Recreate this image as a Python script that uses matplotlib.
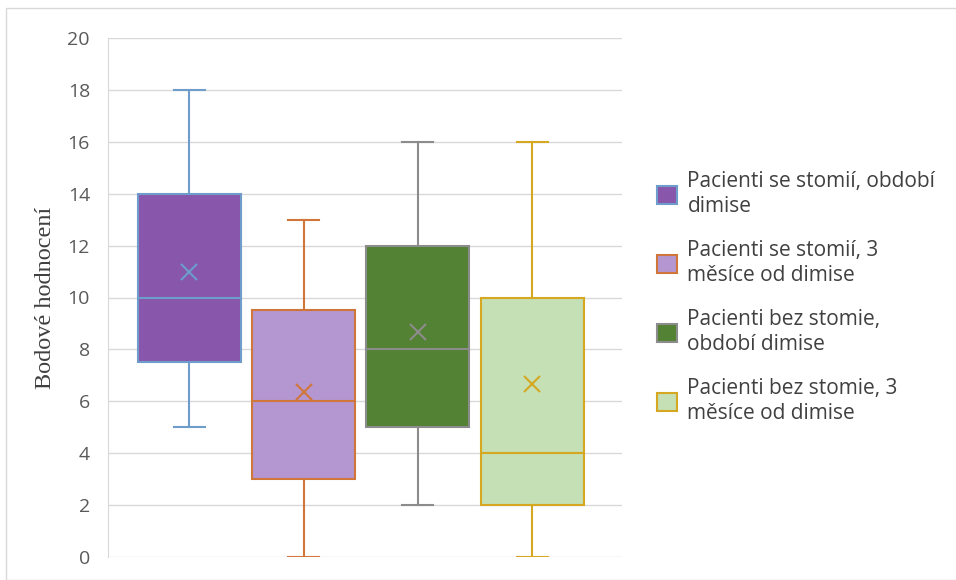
import matplotlib.pyplot as plt
from matplotlib.patches import Patch, Rectangle

# data
labels = ['Pacienti se stomií, období\ndimise',
          'Pacienti se stomií, 3\nměsíce od dimise',
          'Pacienti bez stomie,\nobdobí dimise',
          'Pacienti bez stomie, 3\nměsíce od dimise']
whislo = [5, 0, 2, 0]
q1 = [7.5, 3, 5, 2]
med = [10, 6, 8, 4]
q3 = [14, 9.5, 12, 10]
whishi = [18, 13, 16, 16]
means = [11, 6.35, 8.67, 6.67]

fills = ['#8856AB', '#B497D0', '#548235', '#C5E0B4']
edges = ['#6E9CCB', '#D0763A', '#8C8C8C', '#D6A822']

fig = plt.figure(figsize=(9.56, 5.8), dpi=100)
ax = fig.add_axes([108 / 956, 1 - 557 / 580, 514 / 956, 519 / 580])
fig.patches.append(Rectangle((6 / 956, 0), 1, 1 - 8 / 580, transform=fig.transFigure,
                             fill=False, edgecolor='#D9D9D9', linewidth=1))

stats = []
for i in range(4):
    stats.append(dict(whislo=whislo[i], q1=q1[i], med=med[i], q3=q3[i],
                      whishi=whishi[i], mean=means[i], label=labels[i]))

pos = [1, 2, 3, 4]
for i in range(4):
    ax.bxp([stats[i]], positions=[pos[i]], widths=0.9, patch_artist=True,
           showmeans=True, showfliers=False,
           boxprops=dict(facecolor=fills[i], edgecolor=edges[i], linewidth=1.5),
           medianprops=dict(color=edges[i], linewidth=1.5),
           whiskerprops=dict(color=edges[i], linewidth=1.5),
           capprops=dict(color=edges[i], linewidth=1.5),
           capwidths=0.27,
           meanprops=dict(marker='x', markeredgecolor=edges[i], markersize=11,
                          markeredgewidth=1.5),
           zorder=3)

ax.set_xlim(0.287, 4.787)
ax.set_ylim(0, 20)
ax.set_yticks(range(0, 21, 2))
ax.set_xticks([])
ax.grid(axis='y', color='#D9D9D9', linewidth=1, zorder=0)
ax.set_axisbelow(True)
for s in ['top', 'right', 'bottom']:
    ax.spines[s].set_visible(False)
ax.spines['left'].set_color('#D9D9D9')
ax.tick_params(axis='y', length=0, pad=13, labelsize=14, labelcolor='#595959')
for t in ax.get_yticklabels():
    t.set_family('Open Sans')
ax.set_ylabel('Bodové hodnocení', family='Liberation Serif', fontsize=17.5,
              color='#404040', labelpad=8)

handles = [Patch(facecolor=fills[i], edgecolor=edges[i], linewidth=1.5) for i in range(4)]
leg = ax.legend(handles, labels, loc='center left', bbox_to_anchor=(1.032, 0.50),
                frameon=False, prop={'family': 'Open Sans', 'size': 15},
                handlelength=0.95, handleheight=0.95, handletextpad=0.5,
                labelspacing=1.1, labelcolor='#404040')
for t in leg.get_texts():
    t.set_linespacing(1.25)

fig.savefig('out.png', dpi=100)
